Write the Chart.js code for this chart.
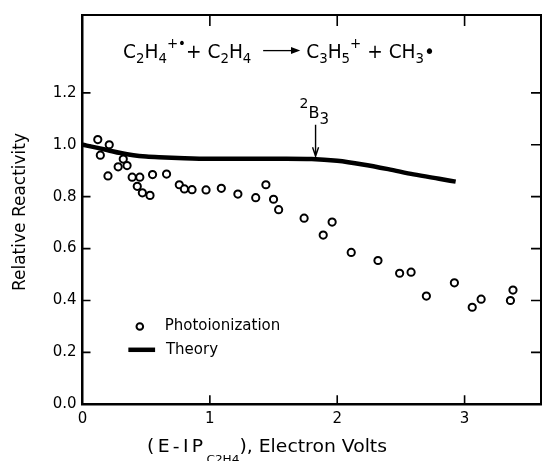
<!DOCTYPE html>
<html>
<head>
<meta charset="utf-8">
<script src="https://cdn.jsdelivr.net/npm/chart.js@4.4.1/dist/chart.umd.min.js"></script>
<style>
  html, body { margin: 0; padding: 0; background: #fff; }
  #wrap { width: 547px; height: 461px; }
</style>
</head>
<body>
<div id="wrap"><canvas id="chart" width="547" height="461"></canvas></div>
<script>
// photoionization measurements (circles)
const photoX = [0.12, 0.21, 0.14, 0.20, 0.32, 0.28, 0.35, 0.39, 0.45, 0.43, 0.47, 0.53, 0.55, 0.66,
  0.76, 0.80, 0.86, 0.97, 1.09, 1.22, 1.36, 1.44, 1.50, 1.54, 1.74, 1.89, 1.96, 2.11, 2.32,
  2.49, 2.58, 2.70, 2.92, 3.06, 3.13, 3.36, 3.38];
const photoY = [1.02, 1.00, 0.96, 0.88, 0.945, 0.915, 0.92, 0.875, 0.875, 0.84, 0.815, 0.805, 0.885, 0.887,
  0.846, 0.83, 0.827, 0.826, 0.832, 0.81, 0.796, 0.846, 0.79, 0.75, 0.717, 0.652, 0.702, 0.585, 0.554,
  0.505, 0.509, 0.417, 0.468, 0.374, 0.405, 0.40, 0.44];

// theory curve
const theoryX = [0, 0.1, 0.2, 0.3, 0.4, 0.5, 0.6, 0.8, 1.0, 1.2, 1.4, 1.6, 1.8, 2.0, 2.2, 2.4, 2.6, 2.8, 2.93];
const theoryY = [1.0, 0.99, 0.979, 0.968, 0.96, 0.955, 0.952, 0.948, 0.946, 0.946, 0.946, 0.946, 0.945,
  0.938, 0.924, 0.906, 0.886, 0.869, 0.858];

const xTicks = [0, 1, 2, 3];
const yTicks = [0, 0.2, 0.4, 0.6, 0.8, 1.0, 1.2];

const FONT = "'DejaVu Sans', sans-serif";

// draws text with subscripts / superscripts, returns width
// if fitWidth is given the whole run is squeezed/stretched to that width
function drawRich(ctx, x, y, segs, size, fitWidth, dry) {
  if (fitWidth && !dry) {
    const w = drawRich(ctx, 0, 0, segs, size, null, true);
    ctx.save();
    ctx.translate(x, y);
    ctx.scale(fitWidth / w, 1);
    drawRich(ctx, 0, 0, segs, size, null, false);
    ctx.restore();
    return fitWidth;
  }
  ctx.textBaseline = "alphabetic";
  ctx.textAlign = "left";
  let cx = x;
  for (const s of segs) {
    if (s.arrow) {
      const ay = y - size * 0.37;
      if (!dry) {
        ctx.lineWidth = 1.3;
        ctx.beginPath();
        ctx.moveTo(cx, ay);
        ctx.lineTo(cx + s.arrow - 6, ay);
        ctx.stroke();
        ctx.beginPath();
        ctx.moveTo(cx + s.arrow, ay);
        ctx.lineTo(cx + s.arrow - 10, ay - 3.5);
        ctx.lineTo(cx + s.arrow - 10, ay + 3.5);
        ctx.closePath();
        ctx.fill();
      }
      cx += s.arrow;
      continue;
    }
    const fs = (s.sub || s.sup) ? (s.size || size * 0.72) : size;
    ctx.font = fs + "px " + FONT;
    const dy = s.sub ? s.sub : (s.sup ? -s.sup : 0);
    if (s.ls) {
      for (const ch of s.t) {
        if (!dry) ctx.fillText(ch, cx, y + dy);
        cx += ctx.measureText(ch).width + s.ls;
      }
    } else {
      if (!dry) ctx.fillText(s.t, cx, y + dy);
      cx += ctx.measureText(s.t).width;
    }
  }
  return cx - x;
}

const decorations = {
  id: "decorations",
  afterDraw(chart) {
    const ctx = chart.ctx;
    const a = chart.chartArea;
    const xs = chart.scales.x, ys = chart.scales.y;
    ctx.save();
    ctx.strokeStyle = "#000";
    ctx.fillStyle = "#000";

    // top and right frame
    ctx.lineWidth = 2;
    ctx.beginPath();
    ctx.moveTo(a.left, a.top);
    ctx.lineTo(a.right, a.top);
    ctx.lineTo(a.right, a.bottom);
    ctx.stroke();

    // inward ticks
    ctx.lineWidth = 1.6;
    xTicks.forEach(v => {
      if (v === 0) return;
      const px = xs.getPixelForValue(v);
      ctx.beginPath();
      ctx.moveTo(px, a.bottom); ctx.lineTo(px, a.bottom - 9);
      ctx.moveTo(px, a.top); ctx.lineTo(px, a.top + 11);
      ctx.stroke();
    });
    yTicks.forEach(v => {
      if (v === 0) return;
      const py = ys.getPixelForValue(v);
      ctx.beginPath();
      ctx.moveTo(a.left, py); ctx.lineTo(a.left + 8, py);
      ctx.moveTo(a.right, py); ctx.lineTo(a.right - 10, py);
      ctx.stroke();
    });

    // legend
    const lx = xs.getPixelForValue(0.45), ly = ys.getPixelForValue(0.3);
    ctx.lineWidth = 2;
    ctx.beginPath();
    ctx.arc(lx, ly, 3.3, 0, Math.PI * 2);
    ctx.stroke();
    ctx.font = "15px " + FONT;
    ctx.textBaseline = "middle";
    ctx.fillText("Photoionization", xs.getPixelForValue(0.645), ly);
    const ty = ys.getPixelForValue(0.21);
    ctx.lineWidth = 4.5;
    ctx.beginPath();
    ctx.moveTo(xs.getPixelForValue(0.36), ty);
    ctx.lineTo(xs.getPixelForValue(0.57), ty);
    ctx.stroke();
    ctx.fillText("Theory", xs.getPixelForValue(0.655), ty);

    // 2B3 arrow
    const axp = xs.getPixelForValue(1.83);
    const top = ys.getPixelForValue(1.077), tip = ys.getPixelForValue(0.956);
    ctx.lineWidth = 1.4;
    ctx.beginPath();
    ctx.moveTo(axp, top); ctx.lineTo(axp, tip);
    ctx.moveTo(axp - 3, tip - 9); ctx.lineTo(axp, tip); ctx.lineTo(axp + 3, tip - 9);
    ctx.stroke();
    drawRich(ctx, axp - 16, top - 7, [
      { t: "2", sup: 10, size: 14 }, { t: "B" }, { t: "3", sub: 6, size: 15 }
    ], 16);

    // reaction equation
    const sb = 5, sp = 10;
    drawRich(ctx, 123, 58, [
      { t: "C" }, { t: "2", sub: sb }, { t: "H" }, { t: "4", sub: sb }, { t: "+•", sup: sp },
      { t: "+ C" }, { t: "2", sub: sb }, { t: "H" }, { t: "4", sub: sb }, { t: "  " }, { arrow: 40 },
      { t: " C" }, { t: "3", sub: sb }, { t: "H" }, { t: "5", sub: sb }, { t: "+", sup: sp },
      { t: " + CH" }, { t: "3", sub: sb }, { t: "•" }
    ], 20, 312);

    // x axis title
    drawRich(ctx, 147, 452, [
      { t: "(E-IP", ls: 3 }, { t: "C", sub: 11, size: 11 }, { t: "2", sub: 11, size: 11 },
      { t: "H", sub: 11, size: 11 }, { t: "4", sub: 11, size: 11 }, { t: "), Electron Volts" }
    ], 17, 240);

    // y axis title
    ctx.save();
    ctx.translate(21, 212);
    ctx.rotate(-Math.PI / 2);
    ctx.font = "17px " + FONT;
    ctx.textAlign = "center";
    ctx.textBaseline = "middle";
    ctx.fillText("Relative Reactivity", 0, 0);
    ctx.restore();

    ctx.restore();
  }
};

new Chart(document.getElementById("chart"), {
  type: "scatter",
  data: {
    datasets: [
      {
        label: "Photoionization",
        data: photoX.map((x, i) => ({ x: x, y: photoY[i] })),
        pointRadius: 3.6,
        pointBorderWidth: 2,
        borderColor: "#000",
        backgroundColor: "#fff",
        showLine: false,
      },
      {
        label: "Theory",
        type: "line",
        data: theoryX.map((x, i) => ({ x: x, y: theoryY[i] })),
        borderColor: "#000",
        borderWidth: 4.5,
        pointRadius: 0,
        cubicInterpolationMode: "monotone",
        fill: false,
      },
    ],
  },
  options: {
    responsive: false,
    devicePixelRatio: 1,
    animation: false,
    layout: { padding: { top: 12, right: 2, left: 0, bottom: 0 } },
    plugins: { legend: { display: false }, tooltip: { enabled: false } },
    scales: {
      x: {
        type: "linear",
        min: 0,
        max: 3.6,
        afterBuildTicks: (s) => { s.ticks = xTicks.map(v => ({ value: v })); },
        afterFit: (s) => { s.height = 56.7; },
        ticks: { callback: (v) => String(v), color: "#000", padding: 6, font: { family: FONT, size: 15 } },
        grid: { drawOnChartArea: false, drawTicks: false },
        border: { color: "#000", width: 2.5 },
      },
      y: {
        min: 0,
        max: 1.5,
        afterBuildTicks: (s) => { s.ticks = yTicks.map(v => ({ value: v })); },
        afterFit: (s) => { s.width = 82.5; },
        ticks: { callback: (v) => v.toFixed(1), color: "#000", padding: 6, font: { family: FONT, size: 15 } },
        grid: { drawOnChartArea: false, drawTicks: false },
        border: { color: "#000", width: 2.5 },
      },
    },
  },
  plugins: [decorations],
});
</script>
</body>
</html>
